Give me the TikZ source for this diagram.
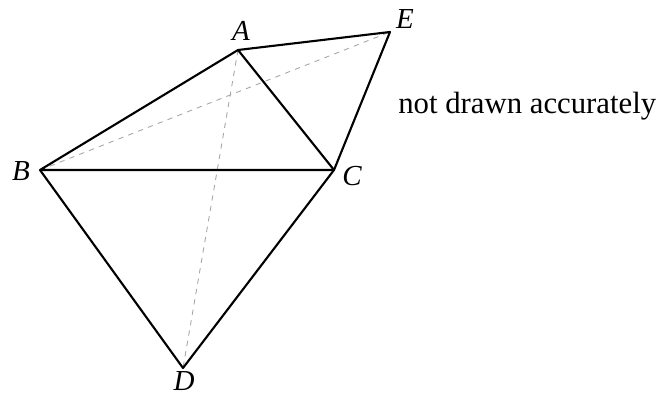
\documentclass[tikz,border=0pt]{standalone}
\usepackage{fontspec}
\setmainfont{Liberation Serif}
\usetikzlibrary{calc}
\tikzset{edge/.style={line width=1.2pt, line join=round},
  hidden/.style={dashed, gray!70, line width=0.5pt},
  vlabel/.style={font=\fontsize{16.5}{18}\selectfont\itshape, inner sep=0pt}}

\begin{document}
\begin{tikzpicture}[x=0.02cm, y=-0.02cm]
\useasboundingbox (0,0) rectangle (662,394);
% vertices
\coordinate (A) at (238,50);
\coordinate (E) at (390,32);
\coordinate (B) at (40,170);
\coordinate (C) at (334,170);
\coordinate (D) at (183,368);
% hidden diagonals
\draw[hidden] (B) -- (E);
\draw[hidden] (A) -- (D);
% quadrilaterals
\draw[edge] (B) -- (A) -- (E) -- (C) -- cycle;
\draw[edge] (A) -- (C);
\draw[edge] (B) -- (D) -- (C);
% labels
\node[vlabel] (lA) at (241,31) {A};
\node[vlabel] (lE) at (405,19) {E};
\node[vlabel] (lB) at (21,171) {B};
\node[vlabel] (lC) at (352,176) {C};
\node[vlabel, anchor=north] (lD) at ($(D)+(1,3)$) {D};
\node[font=\fontsize{17.5}{20}\selectfont, anchor=west, inner sep=0pt] (note) at (398,106) {not drawn accurately};
\end{tikzpicture}
\end{document}
